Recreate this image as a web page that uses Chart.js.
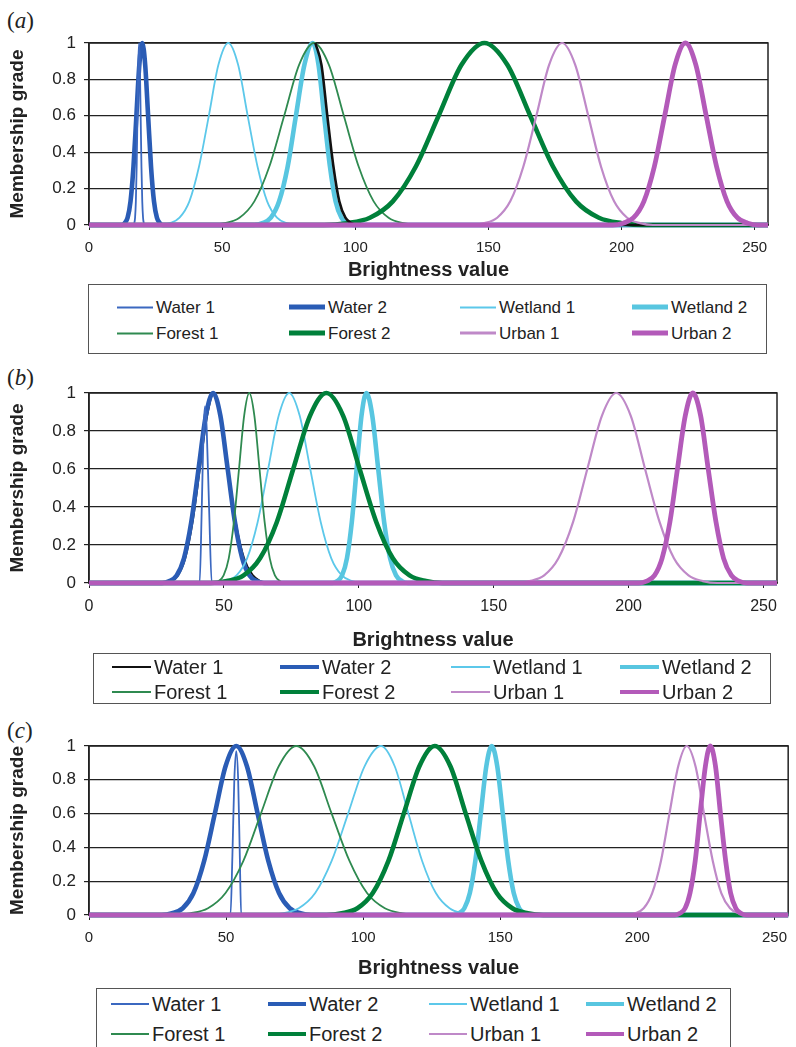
<!DOCTYPE html>
<html>
<head>
<meta charset="utf-8">
<script src="https://cdn.jsdelivr.net/npm/chart.js@4.4.0/dist/chart.umd.min.js"></script>
<style>
body { margin: 0; background: #fff; width: 796px; height: 1047px; position: relative; overflow: hidden;
       font-family: "Liberation Sans", Arial, sans-serif; color: #222; }
canvas { position: absolute; left: 0; }
.lab { position: absolute; left: 7px; font-family: "Liberation Serif", "Times New Roman", serif; font-size: 23px; line-height: 26px; }
.legend { position: absolute; border: 1.5px solid #555; box-sizing: border-box; }
.item { position: absolute; display: flex; align-items: center; transform: translateY(-50%); white-space: nowrap; line-height: 1; }
.item .ln { display: inline-block; }
</style>
</head>
<body>
<div class="lab" style="top:8px">(<i>a</i>)</div>
<div class="lab" style="top:365px">(<i>b</i>)</div>
<div class="lab" style="top:718px">(<i>c</i>)</div>
<canvas id="chartA" width="796" height="284" style="top:0px"></canvas>
<canvas id="chartB" width="796" height="294" style="top:360px"></canvas>
<canvas id="chartC" width="796" height="272" style="top:710px"></canvas>
<script>
const seriesNames = ['Water 1', 'Water 2', 'Wetland 1', 'Wetland 2', 'Forest 1', 'Forest 2', 'Urban 1', 'Urban 2'];
const xTicks = [0, 50, 100, 150, 200, 250];
const yTicks = [0, 0.2, 0.4, 0.6, 0.8, 1];

// (a) brightness value, membership grade
const aWater1 = [[0,0],[16.7,0],[17.0,0.01],[17.3,0.04],[17.6,0.13],[17.9,0.32],[18.2,0.6],[18.5,0.88],[18.8,1],[19.1,0.88],[19.4,0.6],[19.7,0.32],[20.0,0.13],[20.3,0.04],[20.6,0.01],[20.9,0],[255,0]];
const aWater2 = [[0,0],[12.3,0],[13.4,0.01],[14.5,0.04],[15.6,0.13],[16.7,0.32],[17.8,0.6],[18.9,0.88],[20,1],[21.1,0.88],[22.2,0.6],[23.3,0.32],[24.4,0.13],[25.5,0.04],[26.6,0.01],[27.7,0],[255,0]];
const aWetland1 = [[0,0],[26.7,0],[30.4,0.01],[34,0.04],[37.7,0.13],[41.3,0.32],[45,0.6],[48.6,0.88],[52.3,1],[56,0.88],[59.6,0.6],[63.3,0.32],[66.9,0.13],[70.6,0.04],[74.2,0.01],[77.9,0],[255,0]];
const aWetland2 = [[0,0],[62,0],[65.1,0.01],[68.3,0.04],[71.4,0.13],[74.6,0.32],[77.7,0.6],[80.9,0.88],[84,1],[86.2,0.88],[88.3,0.6],[90.5,0.32],[92.6,0.13],[94.8,0.04],[96.9,0.01],[99.1,0],[255,0]];
const aForest1 = [[0,0],[45.3,0],[50.9,0.01],[56.5,0.04],[62.1,0.13],[67.7,0.32],[73.3,0.6],[78.9,0.88],[84.5,1],[90.1,0.88],[95.7,0.6],[101.3,0.32],[106.9,0.13],[112.5,0.04],[118.1,0.01],[123.7,0],[255,0]];
const aForest2 = [[0,0],[88.3,0],[96.9,0.01],[105.5,0.04],[114.1,0.13],[122.7,0.32],[131.3,0.6],[139.9,0.88],[148.5,1],[157.1,0.88],[165.7,0.6],[174.3,0.32],[182.9,0.13],[191.5,0.04],[200.1,0.01],[208.7,0],[255,0]];
const aUrban1 = [[0,0],[143.6,0],[148.5,0.01],[153.3,0.04],[158.2,0.13],[163.1,0.32],[168,0.6],[172.8,0.88],[177.7,1],[182.6,0.88],[187.5,0.6],[192.3,0.32],[197.2,0.13],[202.1,0.04],[207,0.01],[211.8,0],[255,0]];
const aUrban2 = [[0,0],[196.7,0],[200.6,0.01],[204.5,0.04],[208.4,0.13],[212.3,0.32],[216.2,0.6],[220.1,0.88],[224,1],[227.9,0.88],[231.8,0.6],[235.7,0.32],[239.6,0.13],[243.5,0.04],[247.4,0.01],[251.3,0],[255,0]];
const aBlack = [[85,1],[87.3,0.88],[89.5,0.6],[91.8,0.32],[94,0.13],[96.3,0.04],[98.5,0.01],[100.8,0],[255,0]]; // unlabelled black curve

// (b)
const bWater1 = [[0,0],[27.6,0],[30.3,0.01],[33,0.04],[35.7,0.13],[38.4,0.32],[41.1,0.6],[43.8,0.88],[46.3,1],[48.8,0.88],[51.6,0.6],[54.4,0.32],[57.5,0.13],[60.8,0.04],[63.5,0.01],[66,0],[255,0]];
const bWater2 = [[0,0],[27.1,0],[29.8,0.01],[32.5,0.04],[35.2,0.13],[37.9,0.32],[40.6,0.6],[43.3,0.88],[46,1],[48.7,0.88],[51.4,0.6],[54.1,0.32],[56.8,0.13],[59.5,0.04],[62.2,0.01],[64.9,0],[255,0]];
const bSpike = [[0,0],[41,0],[41.8,0.4],[42.5,0.82],[43,0.93],[43.6,0.82],[44.5,0.4],[45.5,0],[255,0]]; // unlabelled thin blue spike
const bWetland1 = [[0,0],[46.9,0],[50.8,0.01],[54.7,0.04],[58.6,0.13],[62.5,0.32],[66.4,0.6],[70.3,0.88],[74.2,1],[78.1,0.88],[82,0.6],[85.9,0.32],[89.8,0.13],[93.7,0.04],[97.6,0.01],[101.5,0],[255,0]];
const bWetland2 = [[0,0],[90.2,0],[92,0.01],[93.8,0.04],[95.6,0.13],[97.4,0.32],[99.2,0.6],[101,0.88],[102.8,1],[105,0.88],[107.2,0.6],[109.4,0.32],[111.6,0.13],[113.8,0.04],[116,0.01],[118.2,0],[255,0]];
const bForest1 = [[0,0],[46.1,0],[48,0.01],[49.9,0.04],[51.8,0.13],[53.7,0.32],[55.6,0.6],[57.5,0.88],[59.4,1],[61.3,0.88],[63.2,0.6],[65.1,0.32],[67,0.13],[68.9,0.04],[70.8,0.01],[72.7,0],[255,0]];
const bForest2 = [[0,0],[45,0],[51.1,0.01],[57.3,0.04],[63.4,0.13],[69.6,0.32],[75.7,0.6],[81.9,0.88],[88,1],[94.2,0.88],[100.3,0.6],[106.5,0.32],[112.6,0.13],[118.8,0.04],[124.9,0.01],[131,0],[255,0]];
const bUrban1 = [[0,0],[158,0],[163.3,0.01],[168.7,0.04],[174,0.13],[179.4,0.32],[184.7,0.6],[190.1,0.88],[195.4,1],[200.8,0.88],[206.1,0.6],[211.5,0.32],[216.8,0.13],[222.2,0.04],[227.5,0.01],[232.9,0],[255,0]];
const bUrban2 = [[0,0],[203.9,0],[206.7,0.01],[209.6,0.04],[212.4,0.13],[215.3,0.32],[218.1,0.6],[221,0.88],[223.8,1],[226.7,0.88],[229.5,0.6],[232.4,0.32],[235.2,0.13],[238.1,0.04],[240.9,0.01],[243.8,0],[255,0]];

// (c)
const cWater1 = [[0,0],[51.6,0],[52.3,0.35],[53,0.8],[53.7,0.97],[54.4,0.8],[55,0.35],[55.5,0],[255,0]];
const cWater2 = [[0,0],[26.4,0],[30.3,0.01],[34.2,0.04],[38.1,0.13],[42,0.32],[45.9,0.6],[49.8,0.88],[53.7,1],[57.6,0.88],[61.5,0.6],[65.4,0.32],[69.3,0.13],[73.2,0.04],[77.1,0.01],[81,0],[255,0]];
const cWetland1 = [[0,0],[64.5,0],[70.5,0.01],[76.5,0.04],[82.5,0.13],[88.5,0.32],[94.5,0.6],[100.5,0.88],[106.5,1],[111.5,0.88],[116.5,0.6],[121.5,0.32],[126.5,0.13],[131.5,0.04],[136.5,0.01],[141.5,0],[255,0]];
const cWetland2 = [[0,0],[132.9,0],[134.9,0.01],[136.9,0.04],[138.9,0.13],[140.9,0.32],[142.9,0.6],[144.9,0.88],[146.9,1],[148.9,0.88],[150.9,0.6],[152.9,0.32],[154.9,0.13],[156.9,0.04],[158.9,0.01],[160.9,0],[255,0]];
const cForest1 = [[0,0],[30.5,0],[36.9,0.01],[43.4,0.04],[49.8,0.13],[56.3,0.32],[62.7,0.6],[69.2,0.88],[75.6,1],[82.1,0.88],[88.5,0.6],[95,0.32],[101.4,0.13],[107.9,0.04],[114.3,0.01],[120.8,0],[255,0]];
const cForest2 = [[0,0],[86.6,0],[92.2,0.01],[97.9,0.04],[103.5,0.13],[109.2,0.32],[114.8,0.6],[120.5,0.88],[126.1,1],[131.8,0.88],[137.4,0.6],[143.1,0.32],[148.7,0.13],[154.4,0.04],[160,0.01],[165.7,0],[255,0]];
const cUrban1 = [[0,0],[196,0],[199.1,0.01],[202.3,0.04],[205.4,0.13],[208.6,0.32],[211.7,0.6],[214.9,0.88],[218,1],[221.2,0.88],[224.3,0.6],[227.5,0.32],[230.6,0.13],[233.8,0.04],[236.9,0.01],[240.1,0],[255,0]];
const cUrban2 = [[0,0],[213.7,0],[215.5,0.01],[217.4,0.04],[219.2,0.13],[221.1,0.32],[222.9,0.6],[224.8,0.88],[226.6,1],[228.5,0.88],[230.3,0.6],[232.2,0.32],[234,0.13],[235.9,0.04],[237.7,0.01],[239.6,0],[255,0]];

const colors = ['#3b68c0', '#2a5cb5', '#5cc8ea', '#58c6e0', '#2f8a50', '#00803a', '#bf89c8', '#b35ab9'];
const colorsB = ['#111111', '#2a5cb5', '#5cc8ea', '#58c6e0', '#2f8a50', '#00803a', '#bf89c8', '#b35ab9'];
const widths = [1.8, 4.6, 1.8, 4.6, 1.8, 4.6, 2.2, 4.8];
const legendWidths = [2, 4.5, 2, 4.5, 2, 4.5, 2.5, 4.5];

Chart.defaults.font.family = '"Liberation Sans", Arial, sans-serif';
Chart.defaults.color = '#222';

const frame = {
  id: 'frame',
  beforeDatasetsDraw(chart) {
    const a = chart.chartArea, ctx = chart.ctx;
    ctx.save();
    ctx.strokeStyle = '#222';
    ctx.lineWidth = 1.5;
    ctx.strokeRect(a.left, a.top, a.right - a.left, a.bottom - a.top);
    ctx.restore();
  }
};

function layer(i, data, cols) {
  return { label: seriesNames[i], data: data, color: cols[i], width: widths[i] };
}

function makeChart(id, layers, L) {
  // layers are listed bottom first; chart.js paints low "order" on top
  const datasets = layers.map((s, i) => ({
    label: s.label,
    data: s.data.map(p => ({ x: p[0], y: p[1] })),
    borderColor: s.color,
    borderWidth: s.width,
    pointRadius: 0,
    fill: false,
    cubicInterpolationMode: 'monotone',
    clip: 8,
    order: layers.length - i
  }));
  new Chart(document.getElementById(id), {
    type: 'line',
    data: { datasets: datasets },
    options: {
      responsive: false,
      animation: false,
      devicePixelRatio: 1,
      layout: { padding: { top: L.padTop, right: L.padRight, left: 0, bottom: 0 } },
      plugins: { legend: { display: false }, tooltip: { enabled: false } },
      scales: {
        x: {
          type: 'linear', min: 0, max: 255,
          afterBuildTicks: s => { s.ticks = xTicks.map(v => ({ value: v })); },
          afterFit: s => { s.height = L.xHeight; },
          ticks: { font: { size: L.xFont }, padding: 9, maxRotation: 0, autoSkip: false, callback: v => String(v) },
          grid: { drawOnChartArea: false, drawTicks: true, tickLength: 5, color: '#222' },
          border: { color: '#222', width: 1.5 },
          title: { display: true, text: 'Brightness value', font: { size: 20, weight: 'bold' }, padding: { top: 0, bottom: 2 } }
        },
        y: {
          min: 0, max: 1,
          afterBuildTicks: s => { s.ticks = yTicks.map(v => ({ value: v })); },
          afterFit: s => { s.width = 89; },
          ticks: { font: { size: 17 }, padding: 8, callback: v => String(v) },
          grid: { color: '#222', lineWidth: 1.2, tickLength: 5 },
          border: { color: '#222', width: 1.5 },
          title: { display: true, text: 'Membership grade', font: { size: 19, weight: 'bold' }, padding: { top: 6.6, bottom: 0 } }
        }
      }
    },
    plugins: [frame]
  });
}

function makeLegend(L, cols) {
  const box = document.createElement('div');
  box.className = 'legend';
  Object.assign(box.style, { left: L.left + 'px', top: L.top + 'px', width: L.width + 'px', height: L.height + 'px' });
  document.body.appendChild(box);
  seriesNames.forEach((name, i) => {
    const it = document.createElement('div');
    it.className = 'item';
    it.style.left = L.cols[i % 4] + 'px';
    it.style.top = L.rows[Math.floor(i / 4)] + 'px';
    it.style.fontSize = L.font + 'px';
    it.innerHTML = '<span class="ln" style="width:' + L.lineLen + 'px;height:' + legendWidths[i] + 'px;background:' +
      cols[i] + ';margin-right:' + L.gap + 'px"></span>' + name;
    document.body.appendChild(it);
  });
}

makeChart('chartA', [
  layer(1, aWater2, colors), layer(0, aWater1, colors), layer(2, aWetland1, colors), layer(3, aWetland2, colors),
  layer(4, aForest1, colors), layer(5, aForest2, colors),
  { label: '', data: aBlack, color: '#111', width: 2.6 },
  layer(6, aUrban1, colors), layer(7, aUrban2, colors)
], { padTop: 43, padRight: 28, xHeight: 59, xFont: 15 });

makeChart('chartB', [
  layer(0, bWater1, colorsB), layer(1, bWater2, colorsB),
  { label: '', data: bSpike, color: '#3b68c0', width: 1.8 },
  layer(2, bWetland1, colorsB), layer(3, bWetland2, colorsB),
  layer(4, bForest1, colorsB), layer(5, bForest2, colorsB), layer(6, bUrban1, colorsB), layer(7, bUrban2, colorsB)
], { padTop: 33, padRight: 19, xHeight: 71, xFont: 16 });

makeChart('chartC', [
  layer(1, cWater2, colors), layer(0, cWater1, colors), layer(2, cWetland1, colors), layer(3, cWetland2, colors),
  layer(4, cForest1, colors), layer(5, cForest2, colors), layer(6, cUrban1, colors), layer(7, cUrban2, colors)
], { padTop: 36, padRight: 1, xHeight: 67, xFont: 15 });

makeLegend({ left: 88, top: 284, width: 679, height: 70, cols: [117, 289, 460, 632], rows: [307, 333], font: 17, lineLen: 36, gap: 3 }, colors);
makeLegend({ left: 93, top: 653, width: 678, height: 51, cols: [112, 280, 451, 620], rows: [667, 692], font: 20, lineLen: 39, gap: 3 }, colorsB);
makeLegend({ left: 96, top: 988, width: 635, height: 70, cols: [111, 268, 429, 586], rows: [1004, 1034], font: 20, lineLen: 38, gap: 3 }, colors);
</script>
</body>
</html>
